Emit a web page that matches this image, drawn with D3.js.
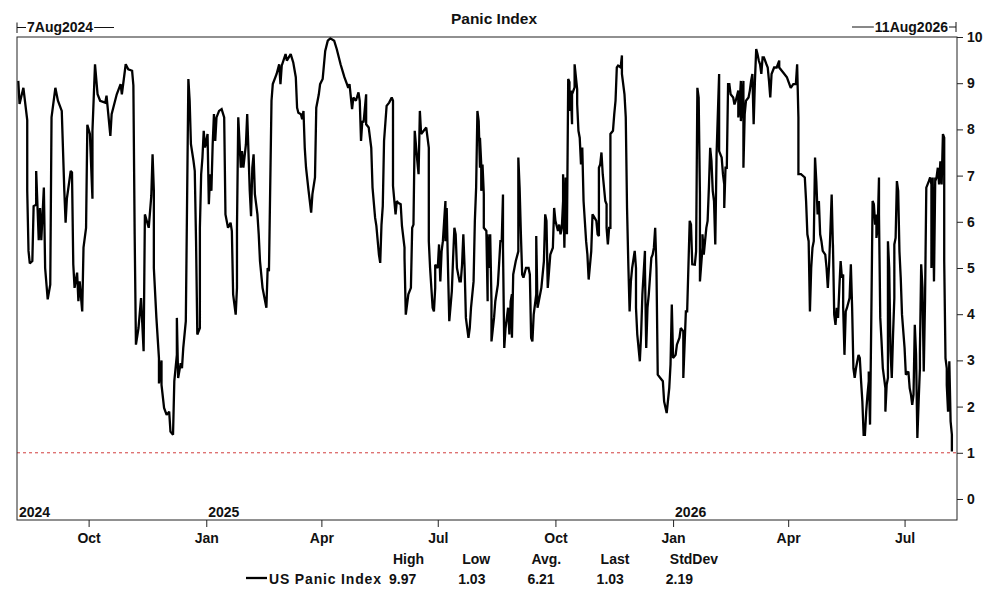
<!DOCTYPE html>
<html>
  <head>
    <title>Panic Index</title>
    <script src="https://d3js.org/d3.v7.min.js"></script>
    <style>
      body {
        margin: 0;
        background-color: white;
      }

      text {
        font-family: "Liberation Sans", Arial, sans-serif;
        font-weight: bold;
        font-size: 14px;
        fill: #111;
      }
    </style>
  </head>
  <body>
    <script>
      // [days after 6 Aug 2024, index value]
      const readings = [
        [1, 9.05], [2, 8.55], [5, 8.9], [8, 8.2], [8, 6.67], [9, 5.37], [10, 5.1], [12, 5.15], [13, 6.34], [15, 6.37],
        [15, 7.1], [17, 5.6], [18, 6.3], [19, 5.6], [21, 6.74], [22, 5.0], [24, 4.32], [26, 4.64], [27, 8.26], [30, 8.9],
        [32, 8.62], [35, 8.4], [37, 6.67], [38, 5.98], [39, 6.5], [42, 7.1], [43, 7.07], [44, 5.08], [45, 4.57], [47, 4.9],
        [48, 4.28], [49, 4.71], [51, 4.06], [52, 5.44], [54, 5.87], [55, 8.1], [57, 7.9], [59, 6.5], [59, 7.97], [61, 9.41],
        [63, 8.76], [65, 8.62], [69, 8.58], [70, 8.73], [73, 7.86], [74, 8.33], [78, 8.76], [81, 8.98], [82, 8.76], [85, 9.41],
        [87, 9.3], [90, 9.27], [91, 8.95], [92, 5.73], [93, 3.34], [95, 3.7], [97, 4.35], [99, 3.2], [100, 6.16], [103, 5.87],
        [105, 6.56], [106, 7.46], [107, 6.67], [107, 5.0], [109, 3.92], [111, 3.05], [111, 2.5], [113, 3.0], [113, 2.47], [115, 1.97],
        [117, 1.82], [119, 1.89], [120, 1.46], [122, 1.39], [123, 2.55], [125, 3.12], [125, 3.92], [126, 2.62], [128, 2.94], [129, 2.83],
        [130, 3.27], [132, 3.85], [134, 9.09], [135, 8.62], [136, 7.68], [138, 7.32], [139, 7.1], [140, 5.58], [141, 3.56], [143, 3.7],
        [143, 5.87], [144, 7.03], [145, 7.39], [146, 7.97], [147, 7.61], [149, 7.9], [150, 6.38], [151, 7.03], [152, 6.67], [153, 7.68],
        [154, 8.33], [155, 7.75], [156, 8.26], [158, 8.4], [160, 8.44], [162, 8.26], [163, 6.16], [165, 5.87], [167, 5.98], [168, 5.8],
        [169, 4.43], [171, 3.99], [172, 4.57], [172, 5.87], [173, 8.26], [175, 7.17], [176, 7.53], [177, 7.17], [179, 7.68], [180, 8.33],
        [182, 6.67], [183, 6.12], [184, 7.17], [185, 7.46], [186, 6.6], [188, 6.16], [189, 5.73], [190, 5.15], [192, 4.57], [195, 4.14],
        [196, 5.0], [197, 4.93], [199, 8.62], [200, 8.98], [203, 9.2], [205, 9.41], [206, 8.98], [207, 9.38], [210, 9.63], [211, 9.49],
        [214, 9.63], [216, 9.45], [218, 9.13], [219, 8.47], [220, 8.36], [222, 8.33], [223, 8.22], [224, 8.4], [225, 7.6], [226, 7.17],
        [228, 6.67], [230, 6.2], [231, 6.6], [233, 6.96], [234, 8.47], [236, 8.76], [237, 8.98], [239, 9.09], [241, 9.7], [243, 9.92],
        [245, 9.97], [248, 9.92], [250, 9.74], [253, 9.41], [256, 9.13], [258, 8.98], [259, 8.9], [260, 8.98], [262, 8.44], [263, 8.69],
        [265, 8.62], [267, 8.8], [268, 8.62], [269, 7.75], [270, 8.18], [271, 8.15], [273, 8.76], [273, 8.11], [275, 8.04], [277, 7.6],
        [278, 6.74], [280, 6.09], [281, 5.91], [283, 5.29], [284, 5.11], [285, 5.94], [286, 6.34], [287, 7.75], [289, 8.51], [291, 8.58],
        [293, 8.69], [294, 8.62], [294, 6.78], [296, 6.16], [297, 6.45], [298, 6.41], [300, 6.38], [301, 5.91], [303, 5.44], [303, 5.22],
        [304, 3.99], [306, 4.43], [308, 4.57], [309, 5.87], [310, 5.94], [311, 7.97], [313, 7.32], [314, 7.03], [315, 8.4], [316, 7.9],
        [318, 7.97], [320, 8.04], [321, 7.82], [322, 7.6], [322, 5.58], [323, 5.0], [325, 4.14], [326, 4.06], [327, 4.57], [327, 5.07],
        [329, 5.0], [330, 5.51], [331, 4.71], [332, 5.36], [333, 5.58], [334, 6.02], [335, 6.45], [335, 5.58], [336, 6.3], [337, 5.0],
        [338, 3.85], [340, 4.5], [341, 5.22], [342, 5.87], [343, 5.73], [344, 5.0], [346, 4.71], [347, 4.71], [348, 5.07], [349, 5.73],
        [350, 5.0], [351, 3.92], [353, 3.49], [354, 3.7], [355, 4.14], [357, 4.71], [358, 6.02], [359, 6.74], [360, 8.4], [361, 8.18],
        [362, 7.17], [362, 7.82], [363, 7.24], [363, 6.67], [364, 7.24], [365, 6.6], [365, 5.87], [367, 5.8], [368, 4.28], [368, 5.73],
        [369, 5.0], [370, 5.73], [371, 4.28], [371, 3.41], [373, 3.92], [374, 4.28], [376, 4.64], [378, 5.58], [379, 5.58], [380, 6.59],
        [380, 5.44], [381, 3.27], [382, 3.7], [384, 4.14], [385, 3.56], [386, 4.28], [387, 4.43], [387, 3.49], [388, 4.86], [390, 5.15],
        [392, 5.36], [392, 7.39], [393, 6.74], [394, 5.73], [395, 4.86], [396, 4.79], [398, 5.0], [400, 5.0], [401, 4.86], [402, 3.49],
        [403, 3.41], [404, 3.99], [406, 4.43], [406, 5.69], [407, 4.14], [408, 4.28], [410, 4.57], [412, 5.15], [413, 6.16], [414, 6.02],
        [415, 4.57], [417, 5.29], [419, 5.44], [420, 6.3], [421, 6.02], [423, 5.8], [424, 5.94], [425, 5.73], [426, 5.87], [427, 6.45],
        [427, 7.03], [428, 5.44], [429, 6.96], [430, 5.73], [431, 9.09], [432, 9.02], [432, 8.4], [433, 8.84], [434, 8.11], [434, 8.76],
        [436, 8.91], [436, 9.41], [438, 8.87], [438, 8.55], [439, 7.97], [440, 7.82], [441, 7.24], [442, 7.61], [443, 6.45], [445, 5.58],
        [446, 5.29], [447, 4.75], [449, 5.36], [450, 6.16], [451, 6.12], [453, 6.02], [454, 5.73], [455, 5.69], [455, 7.17], [456, 7.24],
        [457, 7.5], [458, 7.03], [460, 6.45], [461, 6.38], [461, 5.87], [462, 5.51], [463, 5.87], [464, 5.87], [464, 7.9], [466, 7.97],
        [467, 8.33], [468, 8.62], [469, 9.34], [470, 9.38], [472, 9.34], [473, 9.6], [473, 9.2], [475, 8.76], [476, 8.26], [477, 6.3],
        [478, 5.08], [479, 4.06], [480, 4.71], [481, 5.0], [483, 5.37], [484, 5.0], [484, 4.14], [485, 3.56], [487, 2.98], [488, 3.56],
        [489, 4.43], [491, 5.37], [491, 5.0], [492, 3.27], [493, 4.14], [494, 4.43], [496, 5.22], [497, 5.29], [498, 5.44], [499, 5.87],
        [500, 5.0], [501, 2.69], [503, 2.62], [505, 2.55], [506, 2.11], [508, 1.86], [510, 2.4], [511, 2.91], [512, 4.21], [513, 3.05],
        [515, 3.12], [516, 3.34], [518, 3.49], [519, 3.7], [521, 3.63], [521, 2.62], [523, 4.06], [524, 4.06], [526, 6.02], [527, 5.94],
        [528, 5.08], [530, 5.07], [531, 5.36], [532, 8.9], [533, 8.69], [534, 6.59], [534, 4.71], [536, 5.44], [536, 5.73], [537, 5.29],
        [538, 5.58], [539, 5.87], [540, 6.02], [541, 6.74], [542, 7.6], [543, 7.32], [544, 6.67], [545, 6.45], [546, 5.51], [547, 7.46],
        [548, 8.33], [549, 9.2], [549, 7.53], [551, 7.39], [552, 7.03], [553, 6.81], [553, 6.3], [554, 7.17], [555, 7.17], [556, 8.98],
        [557, 8.98], [558, 8.76], [560, 8.69], [561, 8.54], [562, 8.62], [564, 8.84], [564, 8.26], [565, 8.55], [566, 9.05], [566, 8.18],
        [568, 9.05], [568, 7.17], [569, 8.33], [570, 8.62], [572, 8.69], [573, 8.84], [574, 9.05], [575, 9.2], [576, 8.11], [577, 9.05],
        [578, 9.74], [579, 9.63], [580, 9.49], [581, 9.41], [582, 9.2], [583, 9.56], [584, 9.56], [586, 9.41], [587, 9.34], [588, 9.05],
        [589, 8.69], [590, 9.2], [592, 9.34], [594, 9.34], [596, 9.49], [596, 9.34], [598, 9.27], [600, 9.2], [602, 9.13], [603, 9.05],
        [605, 8.9], [607, 8.98], [609, 8.98], [610, 9.41], [611, 8.26], [611, 7.03], [613, 7.03], [616, 6.96], [617, 6.45], [618, 5.73],
        [619, 5.58], [620, 4.06], [621, 5.0], [622, 5.44], [623, 5.58], [624, 7.39], [625, 6.88], [626, 6.16], [627, 6.45], [628, 5.73],
        [629, 5.58], [630, 5.37], [632, 5.29], [633, 5.0], [634, 4.57], [635, 5.07], [636, 5.8], [637, 6.59], [638, 5.44], [638, 5.51],
        [639, 3.99], [640, 3.77], [641, 4.14], [642, 3.92], [643, 4.57], [644, 5.15], [645, 4.79], [646, 4.86], [646, 4.14], [647, 3.12],
        [648, 4.06], [649, 4.14], [651, 4.35], [652, 5.08], [653, 4.14], [654, 2.83], [655, 2.62], [656, 2.83], [658, 3.12], [659, 3.05],
        [660, 2.55], [661, 2.11], [662, 1.39], [663, 1.39], [664, 1.89], [665, 2.26], [666, 2.55], [666, 2.76], [667, 1.61], [668, 3.92],
        [669, 6.45], [670, 6.38], [671, 5.94], [672, 6.16], [672, 5.65], [673, 5.87], [674, 6.96], [674, 6.16], [675, 3.92], [676, 3.41],
        [677, 2.83], [679, 2.4], [679, 1.89], [680, 2.47], [681, 2.62], [681, 5.58], [682, 5.0], [683, 3.2], [684, 2.62], [685, 3.56],
        [686, 4.35], [686, 5.51], [687, 5.65], [688, 6.88], [689, 6.67], [690, 5.36], [691, 4.79], [692, 3.99], [694, 3.27], [695, 2.69],
        [697, 2.76], [698, 2.4], [699, 2.26], [700, 2.04], [701, 2.26], [702, 3.77], [703, 3.12], [704, 1.32], [705, 2.11], [706, 2.83],
        [706, 3.2], [707, 5.08], [708, 4.57], [709, 2.76], [710, 4.28], [711, 6.74], [713, 6.88], [714, 6.96], [715, 6.81], [715, 5.0],
        [716, 6.96], [717, 4.71], [718, 6.96], [718, 6.88], [719, 6.96], [720, 7.17], [721, 6.81], [722, 7.31], [723, 6.81], [724, 7.9],
        [725, 7.82], [725, 5.15], [726, 3.05], [727, 2.83], [727, 2.47], [728, 1.89], [729, 2.98], [730, 1.68], [731, 1.39], [731, 1.03]
      ];

      const yTickValues = [0, 1, 2, 3, 4, 5, 6, 7, 8, 9, 10];
      const statNames = ['High', 'Low', 'Avg.', 'Last', 'StdDev'];
      const statValues = [9.97, 1.03, 6.21, 1.03, 2.19];
      const seriesName = 'US Panic Index';
      const chartTitle = 'Panic Index';
      const periodStart = '7Aug2024';
      const periodEnd = '11Aug2026';
      const panicThreshold = 1;

      const w = 999;
      const h = 593;
      const plot = {left: 17, right: 957, top: 37, bottom: 520};
      const xStart = new Date(2024, 7, 6);
      const xEnd = new Date(2026, 7, 11);

      const x = d3.scaleTime()
                  .domain([xStart, xEnd])
                  .range([plot.left, plot.right]);

      const y = d3.scaleLinear()
                  .domain([-0.455, 10])
                  .range([plot.bottom, plot.top]);

      const svg = d3.select('body')
                    .append('svg')
                    .attr('width', w)
                    .attr('height', h);

      svg.append('clipPath')
         .attr('id', 'plot-clip')
         .append('rect')
         .attr('x', plot.left)
         .attr('y', plot.top)
         .attr('width', plot.right - plot.left)
         .attr('height', plot.bottom - plot.top);

      // threshold line
      svg.append('line')
         .attr('x1', plot.left)
         .attr('x2', plot.right)
         .attr('y1', y(panicThreshold))
         .attr('y2', y(panicThreshold))
         .attr('stroke', '#d23c3c')
         .attr('stroke-width', 1)
         .attr('stroke-dasharray', '3,3');

      const line = d3.line()
                     .x(d => x(d3.timeDay.offset(xStart, d[0])))
                     .y(d => y(d[1]));

      svg.append('path')
         .datum(readings)
         .attr('clip-path', 'url(#plot-clip)')
         .attr('d', line)
         .attr('fill', 'none')
         .attr('stroke', '#000')
         .attr('stroke-width', 2.3)
         .attr('stroke-linejoin', 'miter')
         .attr('stroke-miterlimit', 2);

      svg.append('rect')
         .attr('x', plot.left)
         .attr('y', plot.top)
         .attr('width', plot.right - plot.left)
         .attr('height', plot.bottom - plot.top)
         .attr('fill', 'none')
         .attr('stroke', '#222')
         .attr('stroke-width', 1);

      // right value axis
      const yAxis = svg.append('g')
                       .attr('transform', `translate(${plot.right},0)`)
                       .call(d3.axisRight(y).tickValues(yTickValues).tickSize(6).tickPadding(4));
      yAxis.select('.domain').remove();
      yAxis.selectAll('line').attr('stroke', '#222');

      // month axis
      const monthTicks = d3.timeMonth.every(3).range(xStart, xEnd);
      const xAxis = svg.append('g')
                       .attr('transform', `translate(0,${plot.bottom})`)
                       .call(d3.axisBottom(x).tickValues(monthTicks).tickFormat(d3.timeFormat('%b')).tickSize(7).tickPadding(6));
      xAxis.select('.domain').remove();
      xAxis.selectAll('line').attr('stroke', '#222');

      // year labels inside the plot
      const years = d3.timeYear.range(d3.timeYear.floor(xStart), xEnd);
      svg.selectAll('.year')
         .data(years)
         .enter()
         .append('text')
         .attr('class', 'year')
         .attr('x', d => Math.max(x(d), plot.left) + 2)
         .attr('y', plot.bottom - 3.5)
         .text(d3.timeFormat('%Y'));

      // title
      svg.append('text')
         .attr('x', 494)
         .attr('y', 24)
         .attr('text-anchor', 'middle')
         .style('font-size', '15.5px')
         .text(chartTitle);

      // period markers
      const startText = svg.append('text')
                           .attr('x', plot.left + 10)
                           .attr('y', 32)
                           .text(periodStart);
      const startEnd = plot.left + 10 + startText.node().getComputedTextLength();
      svg.append('path')
         .attr('d', `M${plot.left},22.5V33M${plot.left},27.5H${plot.left + 9}M${startEnd + 1},27.5H${plot.left + 97}`)
         .attr('stroke', '#111')
         .attr('fill', 'none');

      const endText = svg.append('text')
                         .attr('x', plot.right - 9)
                         .attr('y', 32)
                         .attr('text-anchor', 'end')
                         .text(periodEnd);
      const endStart = plot.right - 9 - endText.node().getComputedTextLength();
      svg.append('path')
         .attr('d', `M${plot.right - 1},22V32M${plot.right - 1},27H${plot.right - 8}M${endStart - 1},27H${plot.right - 105}`)
         .attr('stroke', '#111')
         .attr('fill', 'none');

      // legend
      svg.append('line')
         .attr('x1', 246)
         .attr('x2', 267)
         .attr('y1', 578)
         .attr('y2', 578)
         .attr('stroke', '#000')
         .attr('stroke-width', 2.3);

      svg.append('text')
         .attr('x', 269)
         .attr('y', 584)
         .attr('textLength', 112)
         .attr('lengthAdjust', 'spacing')
         .text(seriesName);

      svg.selectAll('.stat-name')
         .data(statNames)
         .enter()
         .append('text')
         .attr('class', 'stat-name')
         .attr('x', (d, i) => 393 + i * 69.2)
         .attr('y', 564)
         .text(d => d);

      svg.selectAll('.stat-value')
         .data(statValues)
         .enter()
         .append('text')
         .attr('class', 'stat-value')
         .attr('x', (d, i) => 389 + i * 69.2)
         .attr('y', 584)
         .text(d => d.toFixed(2));
    </script>
  </body>
</html>
